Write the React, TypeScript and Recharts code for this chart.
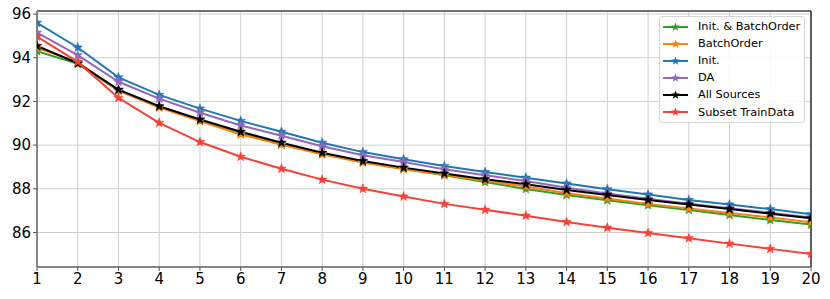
import React from "react"
import {
  LineChart,
  Line,
  XAxis,
  YAxis,
  CartesianGrid,
  ReferenceLine,
} from "recharts"

const epochs = [1, 2, 3, 4, 5, 6, 7, 8, 9, 10, 11, 12, 13, 14, 15, 16, 17, 18, 19, 20]
const initBatchOrder = [94.30, 93.72, 92.50, 91.75, 91.12, 90.52, 90.03, 89.60, 89.22, 88.92, 88.62, 88.31, 87.99, 87.72, 87.48, 87.25, 87.03, 86.80, 86.57, 86.36]
const batchOrder = [94.45, 93.80, 92.50, 91.72, 91.10, 90.49, 90.03, 89.58, 89.20, 88.90, 88.64, 88.37, 88.11, 87.80, 87.56, 87.31, 87.10, 86.89, 86.69, 86.47]
const init = [95.60, 94.47, 93.10, 92.30, 91.67, 91.11, 90.61, 90.11, 89.68, 89.35, 89.04, 88.77, 88.51, 88.24, 87.98, 87.74, 87.49, 87.28, 87.07, 86.84]
const da = [95.15, 94.12, 92.90, 92.13, 91.48, 90.90, 90.43, 89.95, 89.54, 89.23, 88.89, 88.62, 88.36, 88.05, 87.78, 87.54, 87.32, 87.11, 86.90, 86.69]
const allSources = [94.54, 93.75, 92.54, 91.78, 91.17, 90.61, 90.11, 89.65, 89.27, 88.97, 88.70, 88.44, 88.21, 87.95, 87.72, 87.49, 87.28, 87.07, 86.86, 86.65]
const subsetTrain = [94.97, 93.81, 92.16, 91.02, 90.14, 89.47, 88.92, 88.42, 88.00, 87.65, 87.31, 87.04, 86.77, 86.48, 86.22, 85.98, 85.74, 85.49, 85.25, 85.02]

const yTicks = [86, 88, 90, 92, 94, 96]
const yMin = 84.42
const yMax = 96.14

const series = [
  { key: "initBatchOrder", name: "Init. & BatchOrder", color: "#2ca02c", values: initBatchOrder },
  { key: "batchOrder", name: "BatchOrder", color: "#ff7f0e", values: batchOrder },
  { key: "init", name: "Init.", color: "#1f77b4", values: init },
  { key: "da", name: "DA", color: "#9467bd", values: da },
  { key: "allSources", name: "All Sources", color: "#000000", values: allSources },
  { key: "subsetTrain", name: "Subset TrainData", color: "#f44336", values: subsetTrain },
]

const data = epochs.map((e, i) => {
  const row: Record<string, number> = { epoch: e }
  series.forEach((s) => (row[s.key] = s.values[i]))
  return row
})

function starPath(cx: number, cy: number, r: number) {
  const inner = r * 0.42
  let d = ""
  for (let i = 0; i < 10; i++) {
    const rad = i % 2 === 0 ? r : inner
    const a = -Math.PI / 2 + (i * Math.PI) / 5
    d += (i === 0 ? "M" : "L") + (cx + rad * Math.cos(a)).toFixed(2) + "," + (cy + rad * Math.sin(a)).toFixed(2)
  }
  return d + "Z"
}

const makeStar = (color: string) => (props: any) => {
  const { cx, cy, index } = props
  if (cx == null || cy == null) return <g key={index} />
  return <path key={index} d={starPath(cx, cy, 5)} fill={color} stroke={color} strokeWidth={0.5} />
}

// legend drawn on top of the plot, like matplotlib's "upper right"
function LegendBox() {
  return (
    <div
      style={{
        position: "absolute",
        left: 659,
        top: 16,
        width: 146,
        boxSizing: "border-box",
        background: "rgba(255,255,255,0.85)",
        border: "1px solid #d6d6d6",
        borderRadius: 3,
        padding: "1px 0 1px 3px",
        fontFamily: "DejaVu Sans, sans-serif",
        fontSize: 11.3,
        color: "#000",
      }}
    >
      {series.map((s) => (
        <div key={s.key} style={{ display: "flex", alignItems: "center", height: 17.1 }}>
          <svg width={25} height={12} style={{ marginRight: 10 }}>
            <line x1={0} y1={6} x2={25} y2={6} stroke={s.color} strokeWidth={2} />
            <path d={starPath(12.5, 6, 4.5)} fill={s.color} />
          </svg>
          <span>{s.name}</span>
        </div>
      ))}
    </div>
  )
}

export default function App() {
  return (
    <div style={{ position: "absolute", left: 0, top: 0, width: 830, height: 299, background: "#fff" }}>
      <LineChart
        width={830}
        height={299}
        data={data}
        margin={{ top: 11, right: 19, bottom: 0, left: 0 }}
        style={{ fontFamily: "DejaVu Sans, sans-serif" }}
      >
        <CartesianGrid stroke="#d0d0d0" strokeWidth={1} />
        <XAxis
          dataKey="epoch"
          type="number"
          domain={[1, 20]}
          ticks={epochs}
          allowDataOverflow
          height={32}
          tick={{ fill: "#000", fontSize: 15 }}
          tickSize={4}
          tickLine={{ stroke: "#555" }}
          axisLine={{ stroke: "#666", strokeWidth: 1.5 }}
        />
        <YAxis
          type="number"
          domain={[yMin, yMax]}
          ticks={yTicks}
          allowDataOverflow
          width={37}
          tick={{ fill: "#000", fontSize: 15 }}
          tickSize={4}
          tickLine={{ stroke: "#555" }}
          axisLine={{ stroke: "#666", strokeWidth: 1.5 }}
        />
        <ReferenceLine y={yMax} stroke="#000" strokeWidth={1.2} />
        <ReferenceLine x={20} stroke="#000" strokeWidth={1.2} />
        {series.map((s) => (
          <Line
            key={s.key}
            dataKey={s.key}
            name={s.name}
            stroke={s.color}
            strokeWidth={2}
            dot={makeStar(s.color)}
            activeDot={false}
            isAnimationActive={false}
          />
        ))}
      </LineChart>
      <LegendBox />
    </div>
  )
}
